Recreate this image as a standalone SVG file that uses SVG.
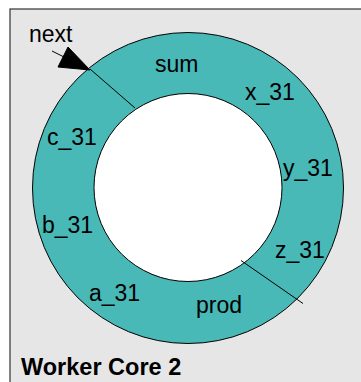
<svg xmlns="http://www.w3.org/2000/svg" width="361" height="382" viewBox="0 0 361 382">
<style>
.lbl{font-family:"Liberation Sans",Arial,sans-serif;font-size:23px;fill:#000}
.ttl{font-family:"Liberation Sans",Arial,sans-serif;font-size:23.5px;font-weight:bold;fill:#000}
</style>
<rect x="10" y="9" width="360" height="380" fill="#e6e6e6" stroke="#333" stroke-width="1.2"/>
<g id="ring">
<circle cx="188" cy="188" r="155.5" fill="#48b9b7" stroke="#000" stroke-width="1"/>
<circle cx="188" cy="187.5" r="94" fill="#ffffff" stroke="#000" stroke-width="1"/>
</g>
<g id="connectors" stroke="#000" stroke-width="1">
<line x1="90" y1="69" x2="135" y2="108"/>
<line x1="241" y1="260.5" x2="303" y2="303.5"/>
<line x1="52" y1="51" x2="70" y2="60"/>
<polygon points="90,70 58,67 68,47" fill="#000"/>
</g>
<g id="labels">
<text class="lbl" x="29" y="42">next</text>
<text class="lbl" x="155" y="72">sum</text>
<text class="lbl" x="245" y="100">x_31</text>
<text class="lbl" x="283" y="176">y_31</text>
<text class="lbl" x="275" y="258">z_31</text>
<text class="lbl" x="196" y="313">prod</text>
<text class="lbl" x="89" y="301">a_31</text>
<text class="lbl" x="42" y="233">b_31</text>
<text class="lbl" x="47" y="145">c_31</text>
</g>
<text id="title" class="ttl" x="21" y="375">Worker Core 2</text>
</svg>
